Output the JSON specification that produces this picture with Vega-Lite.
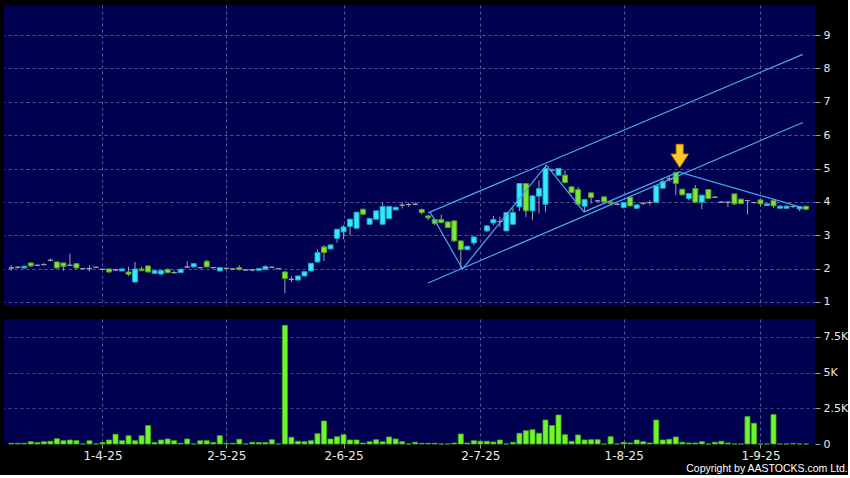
{
  "$schema": "https://vega.github.io/schema/vega-lite/v6.json",
  "background": "#000000",
  "padding": {"left": 4, "top": 5, "right": 0, "bottom": 0},
  "config": {
    "font": "DejaVu Sans",
    "view": {"fill": "#000050", "stroke": null},
    "axis": {"gridColor": "#7878a8", "gridDash": [3, 3], "gridWidth": 1, "gridOpacity": 0.75, "domain": false, "tickColor": "#9a9a9a", "labelColor": "#e8e8e8", "labelFont": "DejaVu Sans", "labelFontSize": 12, "labelOverlap": false}
  },
  "datasets": {
    "candles": [
      {"i": -14, "o": 2.02, "h": 2.1, "l": 1.94, "c": 2.02},
      {"i": -13, "o": 2.04, "h": 2.08, "l": 2.0, "c": 2.04},
      {"i": -12, "o": 2.02, "h": 2.09, "l": 2.0, "c": 2.07},
      {"i": -11, "o": 2.17, "h": 2.18, "l": 2.06, "c": 2.08},
      {"i": -10, "o": 2.1, "h": 2.12, "l": 2.08, "c": 2.1},
      {"i": -9, "o": 2.12, "h": 2.17, "l": 2.1, "c": 2.12},
      {"i": -8, "o": 2.25, "h": 2.3, "l": 2.22, "c": 2.25},
      {"i": -7, "o": 2.2, "h": 2.21, "l": 2.0, "c": 2.02},
      {"i": -6, "o": 2.17, "h": 2.18, "l": 1.94, "c": 2.07},
      {"i": -5, "o": 2.1, "h": 2.45, "l": 2.08, "c": 2.1},
      {"i": -4, "o": 2.15, "h": 2.17, "l": 2.0, "c": 2.02},
      {"i": -3, "o": 2.0, "h": 2.02, "l": 1.98, "c": 2.0},
      {"i": -2, "o": 2.0, "h": 2.1, "l": 1.92, "c": 2.0},
      {"i": -1, "o": 2.04, "h": 2.05, "l": 2.02, "c": 2.04},
      {"i": 0, "o": 1.98, "h": 2.0, "l": 1.96, "c": 1.98},
      {"i": 1, "o": 1.99, "h": 2.0, "l": 1.88, "c": 1.9},
      {"i": 2, "o": 1.96, "h": 2.0, "l": 1.93, "c": 1.96},
      {"i": 3, "o": 1.93, "h": 2.0, "l": 1.92, "c": 1.99},
      {"i": 4, "o": 1.9, "h": 2.06, "l": 1.78, "c": 1.83},
      {"i": 5, "o": 1.6, "h": 2.2, "l": 1.58, "c": 1.99},
      {"i": 6, "o": 1.99, "h": 2.06, "l": 1.92, "c": 1.94},
      {"i": 7, "o": 2.08, "h": 2.1, "l": 1.88, "c": 1.9},
      {"i": 8, "o": 1.86, "h": 1.95, "l": 1.84, "c": 1.94},
      {"i": 9, "o": 1.84, "h": 1.95, "l": 1.8, "c": 1.94},
      {"i": 10, "o": 1.98, "h": 2.0, "l": 1.86, "c": 1.88},
      {"i": 11, "o": 1.88, "h": 1.95, "l": 1.85, "c": 1.88},
      {"i": 12, "o": 1.88, "h": 1.99, "l": 1.87, "c": 1.98},
      {"i": 13, "o": 2.05, "h": 2.22, "l": 2.03, "c": 2.05},
      {"i": 14, "o": 2.05, "h": 2.16, "l": 2.04, "c": 2.15},
      {"i": 15, "o": 2.03, "h": 2.05, "l": 2.01, "c": 2.03},
      {"i": 16, "o": 2.22, "h": 2.27, "l": 2.04, "c": 2.05},
      {"i": 17, "o": 2.03, "h": 2.04, "l": 2.01, "c": 2.03},
      {"i": 18, "o": 1.93, "h": 2.04, "l": 1.91, "c": 2.03},
      {"i": 19, "o": 2.01, "h": 2.02, "l": 2.0, "c": 2.01},
      {"i": 20, "o": 1.99, "h": 2.0, "l": 1.98, "c": 1.99},
      {"i": 21, "o": 2.03, "h": 2.1, "l": 1.95, "c": 1.97},
      {"i": 22, "o": 1.96, "h": 1.98, "l": 1.94, "c": 1.96},
      {"i": 23, "o": 1.96, "h": 2.0, "l": 1.92, "c": 1.96},
      {"i": 24, "o": 1.95, "h": 2.01, "l": 1.94, "c": 2.0},
      {"i": 25, "o": 1.98, "h": 2.1, "l": 1.97, "c": 2.06},
      {"i": 26, "o": 2.04, "h": 2.06, "l": 2.02, "c": 2.04},
      {"i": 27, "o": 2.0, "h": 2.01, "l": 1.99, "c": 2.0},
      {"i": 28, "o": 1.9, "h": 1.92, "l": 1.26, "c": 1.7},
      {"i": 29, "o": 1.68, "h": 1.78, "l": 1.6, "c": 1.68},
      {"i": 30, "o": 1.66, "h": 1.79, "l": 1.65, "c": 1.78},
      {"i": 31, "o": 1.78, "h": 1.92, "l": 1.77, "c": 1.91},
      {"i": 32, "o": 1.93, "h": 2.17, "l": 1.92, "c": 2.16},
      {"i": 33, "o": 2.2, "h": 2.57, "l": 2.18, "c": 2.48},
      {"i": 34, "o": 2.65, "h": 2.7, "l": 2.23, "c": 2.48},
      {"i": 35, "o": 2.59, "h": 2.72, "l": 2.58, "c": 2.71},
      {"i": 36, "o": 2.91, "h": 3.19, "l": 2.78, "c": 3.18},
      {"i": 37, "o": 3.1, "h": 3.3, "l": 2.88, "c": 3.25},
      {"i": 38, "o": 3.26, "h": 3.5, "l": 3.0, "c": 3.48},
      {"i": 39, "o": 3.21, "h": 3.7, "l": 3.2, "c": 3.69},
      {"i": 40, "o": 3.78, "h": 3.8, "l": 3.6, "c": 3.63},
      {"i": 41, "o": 3.33, "h": 3.52, "l": 3.32, "c": 3.5},
      {"i": 42, "o": 3.48, "h": 3.75, "l": 3.47, "c": 3.73},
      {"i": 43, "o": 3.33, "h": 3.97, "l": 3.32, "c": 3.86},
      {"i": 44, "o": 3.5, "h": 3.88, "l": 3.49, "c": 3.86},
      {"i": 45, "o": 3.76, "h": 3.85, "l": 3.75, "c": 3.84},
      {"i": 46, "o": 3.9, "h": 4.0, "l": 3.8, "c": 3.9},
      {"i": 47, "o": 3.92, "h": 3.98, "l": 3.85, "c": 3.92},
      {"i": 48, "o": 3.93, "h": 3.98, "l": 3.9, "c": 3.93},
      {"i": 49, "o": 3.77, "h": 3.8, "l": 3.62, "c": 3.68},
      {"i": 50, "o": 3.58, "h": 3.6, "l": 3.45, "c": 3.52},
      {"i": 51, "o": 3.47, "h": 3.5, "l": 3.3, "c": 3.35},
      {"i": 52, "o": 3.47, "h": 3.62, "l": 3.36, "c": 3.38},
      {"i": 53, "o": 3.4, "h": 3.42, "l": 3.22, "c": 3.23},
      {"i": 54, "o": 3.43, "h": 3.45, "l": 2.8, "c": 2.83},
      {"i": 55, "o": 2.83, "h": 2.85, "l": 2.0, "c": 2.57},
      {"i": 56, "o": 2.57, "h": 2.68, "l": 2.56, "c": 2.67},
      {"i": 57, "o": 2.77, "h": 2.96, "l": 2.7, "c": 2.95},
      {"i": 59, "o": 3.13, "h": 3.3, "l": 3.1, "c": 3.28},
      {"i": 60, "o": 3.37, "h": 3.58, "l": 3.3, "c": 3.47},
      {"i": 61, "o": 3.41, "h": 3.56, "l": 3.25, "c": 3.41},
      {"i": 62, "o": 3.13, "h": 3.7, "l": 3.12, "c": 3.68},
      {"i": 63, "o": 3.33, "h": 3.82, "l": 3.32, "c": 3.68},
      {"i": 64, "o": 3.85, "h": 4.56, "l": 3.73, "c": 4.55},
      {"i": 65, "o": 4.55, "h": 4.56, "l": 3.55, "c": 3.73},
      {"i": 66, "o": 3.73, "h": 4.2, "l": 3.45, "c": 4.18},
      {"i": 67, "o": 4.17, "h": 4.65, "l": 3.65, "c": 4.4},
      {"i": 68, "o": 3.93, "h": 5.1, "l": 3.7, "c": 5.0},
      {"i": 69, "o": 4.95, "h": 5.0, "l": 4.9, "c": 4.95},
      {"i": 70, "o": 4.8, "h": 5.02, "l": 4.78, "c": 5.0},
      {"i": 71, "o": 4.8, "h": 4.95, "l": 4.55, "c": 4.58},
      {"i": 72, "o": 4.45, "h": 4.47, "l": 4.26, "c": 4.28},
      {"i": 73, "o": 4.37, "h": 4.45, "l": 3.9, "c": 3.93},
      {"i": 74, "o": 3.87, "h": 4.08, "l": 3.7, "c": 4.07},
      {"i": 75, "o": 4.27, "h": 4.28, "l": 3.95, "c": 4.13},
      {"i": 76, "o": 4.03, "h": 4.05, "l": 4.0, "c": 4.03},
      {"i": 77, "o": 4.15, "h": 4.16, "l": 3.98, "c": 4.0},
      {"i": 78, "o": 4.0, "h": 4.05, "l": 3.9, "c": 3.96},
      {"i": 79, "o": 3.93, "h": 3.96, "l": 3.9, "c": 3.93},
      {"i": 80, "o": 3.83, "h": 4.0, "l": 3.8, "c": 3.98},
      {"i": 81, "o": 4.14, "h": 4.16, "l": 3.86, "c": 3.88},
      {"i": 82, "o": 3.81, "h": 3.92, "l": 3.78, "c": 3.91},
      {"i": 83, "o": 3.96, "h": 3.98, "l": 3.9, "c": 3.96},
      {"i": 84, "o": 3.98, "h": 4.05, "l": 3.9, "c": 3.98},
      {"i": 85, "o": 3.99, "h": 4.5, "l": 3.98, "c": 4.48},
      {"i": 86, "o": 4.41, "h": 4.7, "l": 4.4, "c": 4.61},
      {"i": 87, "o": 4.69, "h": 4.78, "l": 4.6, "c": 4.69},
      {"i": 88, "o": 4.88, "h": 4.9, "l": 4.2, "c": 4.55},
      {"i": 89, "o": 4.38, "h": 4.39, "l": 4.2, "c": 4.21},
      {"i": 90, "o": 4.1, "h": 4.26, "l": 4.05, "c": 4.25},
      {"i": 91, "o": 4.4, "h": 4.5, "l": 3.98, "c": 3.99},
      {"i": 92, "o": 3.99, "h": 4.21, "l": 3.78, "c": 4.2},
      {"i": 93, "o": 4.37, "h": 4.38, "l": 4.08, "c": 4.1},
      {"i": 94, "o": 4.14, "h": 4.16, "l": 4.12, "c": 4.14},
      {"i": 95, "o": 3.99, "h": 4.02, "l": 3.97, "c": 3.99},
      {"i": 96, "o": 3.99, "h": 4.02, "l": 3.85, "c": 3.99},
      {"i": 97, "o": 4.24, "h": 4.25, "l": 3.9, "c": 3.94},
      {"i": 98, "o": 4.08, "h": 4.1, "l": 3.93, "c": 3.95},
      {"i": 99, "o": 4.04, "h": 4.06, "l": 3.62, "c": 4.04},
      {"i": 100, "o": 3.98, "h": 4.0, "l": 3.95, "c": 3.98},
      {"i": 101, "o": 4.06, "h": 4.08, "l": 3.85, "c": 3.94},
      {"i": 102, "o": 3.89, "h": 3.96, "l": 3.88, "c": 3.94},
      {"i": 103, "o": 4.04, "h": 4.08, "l": 3.82, "c": 3.88},
      {"i": 104, "o": 3.81, "h": 3.91, "l": 3.8, "c": 3.87},
      {"i": 105, "o": 3.81, "h": 3.9, "l": 3.79, "c": 3.87},
      {"i": 106, "o": 3.86, "h": 3.9, "l": 3.82, "c": 3.86},
      {"i": 107, "o": 3.79, "h": 3.87, "l": 3.72, "c": 3.86},
      {"i": 108, "o": 3.87, "h": 3.88, "l": 3.75, "c": 3.78}
    ],
    "volume": [
      {"i": -14, "v": 50}, {"i": -13, "v": 50}, {"i": -12, "v": 50}, {"i": -11, "v": 160}, {"i": -10, "v": 100},
      {"i": -9, "v": 160}, {"i": -8, "v": 190}, {"i": -7, "v": 370}, {"i": -6, "v": 230}, {"i": -5, "v": 280},
      {"i": -4, "v": 230}, {"i": -3, "v": 0}, {"i": -2, "v": 230}, {"i": -1, "v": 0}, {"i": 0, "v": 100},
      {"i": 1, "v": 280}, {"i": 2, "v": 680}, {"i": 3, "v": 230}, {"i": 4, "v": 580}, {"i": 5, "v": 230},
      {"i": 6, "v": 580}, {"i": 7, "v": 1290}, {"i": 8, "v": 100}, {"i": 9, "v": 280}, {"i": 10, "v": 350},
      {"i": 11, "v": 230}, {"i": 12, "v": 50}, {"i": 13, "v": 350}, {"i": 14, "v": 0}, {"i": 15, "v": 230},
      {"i": 16, "v": 230}, {"i": 17, "v": 100}, {"i": 18, "v": 580}, {"i": 19, "v": 50}, {"i": 20, "v": 50},
      {"i": 21, "v": 330}, {"i": 22, "v": 0}, {"i": 23, "v": 120}, {"i": 24, "v": 100}, {"i": 25, "v": 100},
      {"i": 26, "v": 300}, {"i": 27, "v": 0}, {"i": 28, "v": 8300}, {"i": 29, "v": 470}, {"i": 30, "v": 190},
      {"i": 31, "v": 160}, {"i": 32, "v": 230}, {"i": 33, "v": 720}, {"i": 34, "v": 1610}, {"i": 35, "v": 350},
      {"i": 36, "v": 510}, {"i": 37, "v": 650}, {"i": 38, "v": 280}, {"i": 39, "v": 280}, {"i": 40, "v": 70},
      {"i": 41, "v": 160}, {"i": 42, "v": 300}, {"i": 43, "v": 160}, {"i": 44, "v": 490}, {"i": 45, "v": 350},
      {"i": 46, "v": 160}, {"i": 47, "v": 0}, {"i": 48, "v": 120}, {"i": 49, "v": 50}, {"i": 50, "v": 50},
      {"i": 51, "v": 50}, {"i": 52, "v": 0}, {"i": 53, "v": 0}, {"i": 54, "v": 70}, {"i": 55, "v": 700},
      {"i": 56, "v": 70}, {"i": 57, "v": 230}, {"i": 58, "v": 190}, {"i": 59, "v": 190}, {"i": 60, "v": 140},
      {"i": 61, "v": 280}, {"i": 62, "v": 0}, {"i": 63, "v": 120}, {"i": 64, "v": 750}, {"i": 65, "v": 930},
      {"i": 66, "v": 1000}, {"i": 67, "v": 750}, {"i": 68, "v": 1680}, {"i": 69, "v": 1290}, {"i": 70, "v": 2030},
      {"i": 71, "v": 650}, {"i": 72, "v": 190}, {"i": 73, "v": 630}, {"i": 74, "v": 280}, {"i": 75, "v": 300},
      {"i": 76, "v": 300}, {"i": 77, "v": 0}, {"i": 78, "v": 510}, {"i": 79, "v": 0}, {"i": 80, "v": 120},
      {"i": 81, "v": 70}, {"i": 82, "v": 280}, {"i": 83, "v": 160}, {"i": 84, "v": 70}, {"i": 85, "v": 1680},
      {"i": 86, "v": 280}, {"i": 87, "v": 330}, {"i": 88, "v": 490}, {"i": 89, "v": 120}, {"i": 90, "v": 70},
      {"i": 91, "v": 70}, {"i": 92, "v": 160}, {"i": 93, "v": 0}, {"i": 94, "v": 120}, {"i": 95, "v": 190},
      {"i": 96, "v": 70}, {"i": 97, "v": 0}, {"i": 98, "v": 0}, {"i": 99, "v": 1920}, {"i": 100, "v": 1450},
      {"i": 101, "v": 0}, {"i": 102, "v": 0}, {"i": 103, "v": 2060}, {"i": 104, "v": 0}, {"i": 105, "v": 0},
      {"i": 106, "v": 30}, {"i": 107, "v": 0}, {"i": 108, "v": 0}
    ],
    "lines": [
      {"line": "a", "i": 49.97, "p": 3.67},
      {"line": "a", "i": 107.5, "p": 8.42},
      {"line": "b", "i": 49.97, "p": 1.57},
      {"line": "b", "i": 107.5, "p": 6.38},
      {"line": "z", "i": 50.27, "p": 3.7},
      {"line": "z", "i": 55.27, "p": 1.99},
      {"line": "z", "i": 68.14, "p": 5.1},
      {"line": "z", "i": 73.9, "p": 3.7},
      {"line": "z", "i": 88.43, "p": 4.9},
      {"line": "z", "i": 107.06, "p": 3.85}
    ],
    "arrow": [{"i": 88.6, "p": 5.38}]
  },
  "title": {"text": "Copyright by AASTOCKS.com Ltd.", "orient": "bottom", "anchor": "end", "frame": "bounds", "color": "#ffffff", "fontSize": 10.5, "fontWeight": "normal", "font": "Liberation Sans", "offset": 3},
  "spacing": 12,
  "vconcat": [
    {
      "width": 811,
      "height": 301,
      "encoding": {
        "x": {"type": "quantitative", "scale": {"domain": [-14.35, 108.6], "nice": false, "zero": false},
              "axis": {"values": [0, 19, 37, 58, 80, 101], "labels": false, "ticks": false, "grid": true, "title": null}},
        "y": {"type": "quantitative", "scale": {"domain": [0.88, 9.9], "nice": false, "zero": false},
              "axis": {"orient": "right", "values": [1, 2, 3, 4, 5, 6, 7, 8, 9], "tickSize": 5, "labelPadding": 3, "labelFontSize": 11, "grid": true, "title": null, "labelOverlap": false}}
      },
      "layer": [
        {
          "data": {"name": "candles"},
          "mark": {"type": "rule", "color": "#a0a0a8", "strokeWidth": 1},
          "encoding": {
            "x": {"field": "i"},
            "y": {"field": "l"},
            "y2": {"field": "h"}
          }
        },
        {
          "data": {"name": "candles"},
          "mark": {"type": "bar", "width": 5, "strokeWidth": 1},
          "encoding": {
            "x": {"field": "i"},
            "y": {"field": "o"},
            "y2": {"field": "c"},
            "fill": {"condition": [{"test": "datum.c > datum.o", "value": "#33eaf8"}, {"test": "datum.c < datum.o", "value": "#80e534"}], "value": "#a0a0a8"},
            "stroke": {"condition": [{"test": "datum.c > datum.o", "value": "#1fa6c8"}, {"test": "datum.c < datum.o", "value": "#4e9e1c"}], "value": "#a0a0a8"}
          }
        },
        {
          "data": {"name": "lines"},
          "mark": {"type": "line", "color": "#46a8ee", "strokeWidth": 1.2},
          "encoding": {
            "x": {"field": "i"},
            "y": {"field": "p"},
            "detail": {"field": "line"}
          }
        },
        {
          "data": {"name": "arrow"},
          "mark": {"type": "point", "shape": "M-0.3,-1L0.3,-1L0.3,-0.15L0.75,-0.15L0,1L-0.75,-0.15L-0.3,-0.15Z", "size": 529, "filled": true, "fill": "#ffca28", "stroke": "#d88a00", "strokeWidth": 1, "opacity": 1},
          "encoding": {
            "x": {"field": "i"},
            "y": {"field": "p"}
          }
        }
      ]
    },
    {
      "width": 811,
      "height": 125,
      "data": {"name": "volume"},
      "mark": {"type": "bar", "width": 5, "fill": "#6ef52c", "stroke": "#44b414", "strokeWidth": 0.8},
      "encoding": {
        "x": {"field": "i", "type": "quantitative", "scale": {"domain": [-14.35, 108.6], "nice": false, "zero": false},
              "axis": {"orient": "bottom", "values": [0, 19, 37, 58, 80, 101], "tickSize": 4, "labelPadding": 2, "grid": true, "title": null,
                       "labelExpr": "datum.value == 0 ? '1-4-25' : datum.value == 19 ? '2-5-25' : datum.value == 37 ? '2-6-25' : datum.value == 58 ? '2-7-25' : datum.value == 80 ? '1-8-25' : '1-9-25'"}},
        "y": {"field": "v", "type": "quantitative", "scale": {"domain": [0, 8750], "nice": false, "zero": true},
              "axis": {"orient": "right", "values": [0, 2500, 5000, 7500], "tickSize": 5, "labelPadding": 3, "labelFontSize": 11, "grid": true, "title": null,
                       "gridOpacity": {"condition": {"test": "datum.value === 0", "value": 0}, "value": 0.75},
                       "labelExpr": "datum.value == 0 ? '0' : (datum.value / 1000) + 'K'"}}
      }
    }
  ]
}
